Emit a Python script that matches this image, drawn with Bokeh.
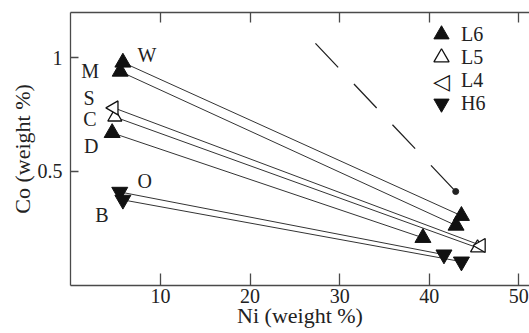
import math
from bokeh.plotting import figure
from bokeh.models import Range1d, LinearAxis, FixedTicker, Legend, LegendItem, ColumnDataSource, Label
from bokeh.embed import file_html
from bokeh.resources import INLINE
from bokeh.core.properties import value

# ---- data ----
names   = ["W", "M", "S", "C", "D", "O", "B"]
types   = ["L6", "L6", "L4", "L5", "L6", "H6", "H6"]
ni_low  = [5.8, 5.5, 4.8, 4.9, 4.6, 5.45, 5.8]
co_low  = [0.98, 0.94, 0.78, 0.74, 0.67, 0.41, 0.375]
ni_high = [43.6, 43.0, 45.8, 45.4, 39.3, 41.65, 43.6]
co_high = [0.305, 0.262, 0.174, 0.164, 0.208, 0.134, 0.103]

trend_ni = [27.3, 42.96]
trend_co = [1.064, 0.412]

x_ticks = [10, 20, 30, 40, 50]
y_ticks = [0.5, 1]
y_tick_labels = {0.5: "0.5", 1: "1"}

legend_order = ["L6", "L5", "L4", "H6"]

# label offsets (screen px) - style only
label_dx = [24, -30, -25, -25, -21, 25, -21]
label_dy = [-7, -1, -10, 2, 13, -11, 15]

FONT = "Liberation Serif"
INK = "#222222"
AXIS = "#4a4a4a"
TXT = "20px"
AXT = "22px"

W, H = 529, 333
FL, FT, FB = 70, 12, 48   # frame borders
frame_h = H - FT - FB

p = figure(width=W, height=H, output_backend="svg", toolbar_location=None,
           x_range=Range1d(-0.05, 51.2), y_range=Range1d(-0.002, 1.2),
           min_border_left=FL, min_border_right=0, min_border_top=FT, min_border_bottom=FB,
           x_axis_location="below", y_axis_location="left")
p.grid.visible = False
p.outline_line_color = None
p.background_fill_color = "white"
p.border_fill_color = "white"

# tie lines
seg = ColumnDataSource(dict(x0=ni_low, y0=co_low, x1=ni_high, y1=co_high))
p.segment("x0", "y0", "x1", "y1", source=seg, line_color="#333333", line_width=1)

# dashed trend line and dot
p.line(trend_ni, trend_co, line_color="#222222", line_width=1.3, line_dash="33 23")
p.scatter(trend_ni[-1:], trend_co[-1:], size=6, color="#222222")

# points by type
pts = {t: ([], []) for t in legend_order}
for t, xl, yl, xh, yh in zip(types, ni_low, co_low, ni_high, co_high):
    pts[t][0].extend([xl, xh])
    pts[t][1].extend([yl, yh])

renderers = {}
renderers["L6"] = p.scatter(pts["L6"][0], pts["L6"][1], marker="triangle", size=16,
                            fill_color="#111111", line_color="#111111")
renderers["L5"] = p.scatter(pts["L5"][0], pts["L5"][1], marker="triangle", size=14,
                            fill_color="white", line_color="#111111", line_width=1.3)
renderers["L4"] = p.scatter(pts["L4"][0], pts["L4"][1], marker="triangle", size=14,
                            angle=math.pi / 2, fill_color="white", line_color="#111111", line_width=1.3)
renderers["H6"] = p.scatter(pts["H6"][0], pts["H6"][1], marker="inverted_triangle", size=16,
                            fill_color="#111111", line_color="#111111")
# legend stand-in for L4 (its glyph is drawn as a rotated symbol below)
l4_dummy = p.scatter(x=[], y=[], marker="triangle", size=1, alpha=0)

# point labels
lab = ColumnDataSource(dict(x=ni_low, y=co_low, text=names, dx=label_dx, dy=label_dy))
p.text("x", "y", text="text", source=lab, x_offset="dx", y_offset="dy",
       text_align="center", text_baseline="middle",
       text_font=value(FONT), text_font_size=TXT, text_color=INK)

# legend: one single-item legend per row so the rows sit 23 px apart
row_cy = [34, 57, 80, 103]   # row centres (px from top of canvas)
gx = 441                     # glyph centre x (px)
box = 38
for t, cy in zip(legend_order, row_cy):
    r = l4_dummy if t == "L4" else renderers[t]
    lg = Legend(items=[LegendItem(label=t, renderers=[r])],
                location=(gx - box // 2 - FL, (FT + frame_h) - (cy + box // 2)),
                glyph_width=box, glyph_height=box, label_height=box,
                label_standoff=1, padding=0, margin=0, spacing=0,
                border_line_color=None, background_fill_alpha=0,
                label_text_font=FONT, label_text_font_size=TXT, label_text_color=INK,
                label_text_baseline="middle")
    p.add_layout(lg, "center")
    if t == "L4":
        p.add_layout(Label(x=gx - FL, y=(FT + frame_h) - cy - 1, x_units="screen", y_units="screen",
                           text="\u25C1", text_font="DejaVu Sans", text_font_size="22px",
                           text_color="#111111", text_align="center", text_baseline="middle"))

# axes
def style_axis(ax, ticks, labels=True, tick_in=10):
    ax.ticker = FixedTicker(ticks=ticks)
    ax.axis_line_color = AXIS
    ax.axis_line_width = 1.3
    ax.major_tick_line_color = AXIS
    ax.major_tick_line_width = 1.3
    ax.major_tick_in = tick_in
    ax.major_tick_out = 0
    ax.minor_tick_line_color = None
    ax.major_label_text_font = FONT
    ax.major_label_text_font_size = TXT
    ax.major_label_text_color = INK
    ax.axis_label_text_font = FONT
    ax.axis_label_text_font_size = AXT
    ax.axis_label_text_color = INK
    ax.axis_label_text_font_style = "normal"
    if not labels:
        ax.major_label_text_font_size = "0px"
        ax.major_label_text_alpha = 0

xa = p.xaxis[0]
style_axis(xa, x_ticks, tick_in=12)
xa.axis_label = "Ni (weight %)"
xa.major_label_standoff = 3
xa.axis_label_standoff = -3

ya = p.yaxis[0]
style_axis(ya, y_ticks, tick_in=8)
ya.major_label_overrides = y_tick_labels
ya.axis_label = "Co (weight %)"
ya.major_label_standoff = 8
ya.axis_label_standoff = 0

top = LinearAxis()
style_axis(top, x_ticks, labels=False, tick_in=10)
top.major_label_standoff = 0
p.add_layout(top, "above")

open("out.html", "w").write(file_html(p, INLINE))
